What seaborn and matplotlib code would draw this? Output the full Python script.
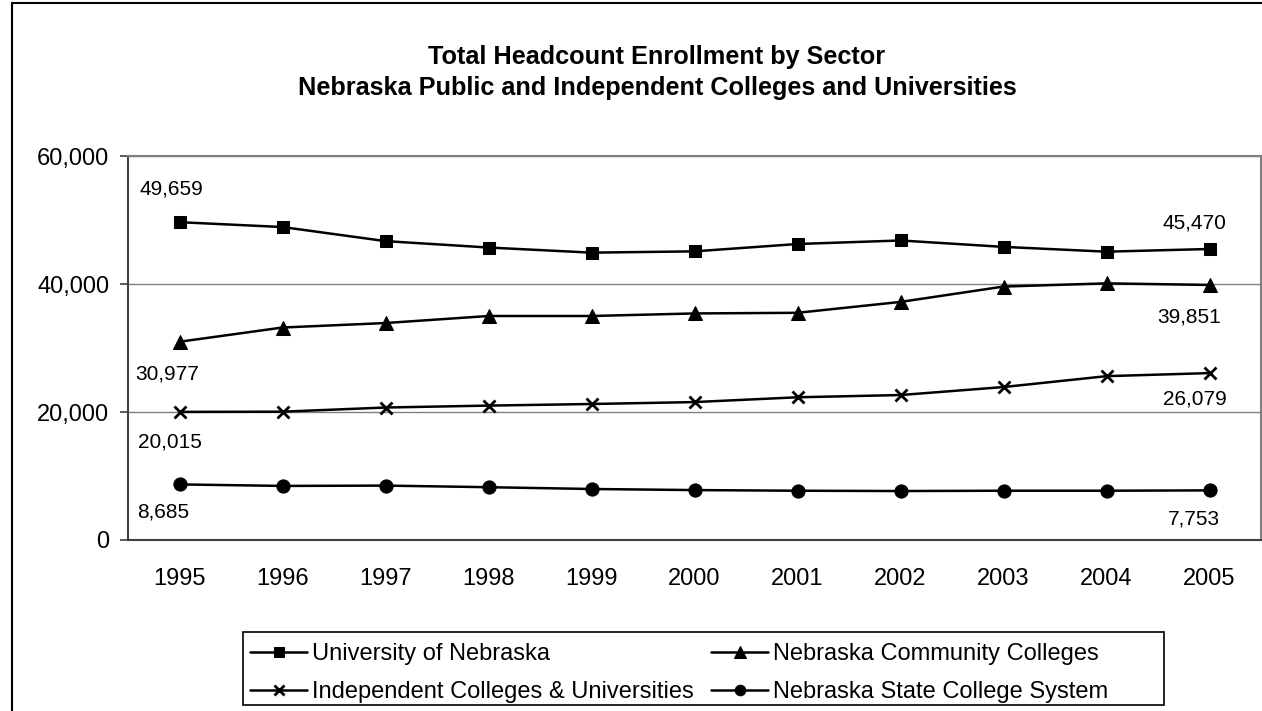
import numpy as np
import pandas as pd
import matplotlib
matplotlib.use("Agg")
import matplotlib.pyplot as plt
import matplotlib.patches as mpatches
from matplotlib.ticker import FuncFormatter, FixedLocator
import seaborn as sns

# Chart data
years = [1995, 1996, 1997, 1998, 1999, 2000, 2001, 2002, 2003, 2004, 2005]
univ_nebraska = [49659, 48900, 46700, 45700, 44900, 45100, 46250, 46800, 45800, 45050, 45470]
community_colleges = [30977, 33200, 33900, 35000, 35000, 35400, 35500, 37200, 39600, 40100, 39851]
independent = [20015, 20050, 20700, 21000, 21250, 21550, 22300, 22650, 23900, 25600, 26079]
state_colleges = [8685, 8450, 8500, 8250, 7970, 7800, 7700, 7650, 7700, 7700, 7753]

series_names = ["University of Nebraska", "Nebraska Community Colleges",
                "Independent Colleges & Universities", "Nebraska State College System"]
y_ticks = [0, 20000, 40000, 60000]
title = ("Total Headcount Enrollment by Sector\n"
         "Nebraska Public and Independent Colleges and Universities")

sns.set_style("white")
plt.rcParams["font.family"] = ["Liberation Sans", "DejaVu Sans"]
plt.rcParams["text.color"] = "black"
plt.rcParams["xtick.color"] = "black"
plt.rcParams["ytick.color"] = "black"

df = pd.DataFrame({"year": years,
                   series_names[0]: univ_nebraska,
                   series_names[1]: community_colleges,
                   series_names[2]: independent,
                   series_names[3]: state_colleges})
long_df = df.melt(id_vars="year", var_name="sector", value_name="headcount")

fig = plt.figure(figsize=(12.62, 7.11), dpi=100)
ax = fig.add_axes([128 / 1262, 1 - 540 / 711, 1133 / 1262, 384 / 711])

markers = {series_names[0]: dict(marker="s", markersize=8.5),
           series_names[1]: dict(marker="^", markersize=10),
           series_names[2]: dict(marker="x", markersize=9, markeredgewidth=2),
           series_names[3]: dict(marker="o", markersize=9.5)}

for name in series_names:
    sub = long_df[long_df["sector"] == name]
    sns.lineplot(data=sub, x="year", y="headcount", ax=ax, color="black",
                 linewidth=1.8, label=name, markeredgecolor="black",
                 markerfacecolor="black", **markers[name])

# first / last point labels (offsets in pixels)
label_offsets = {series_names[0]: [(-8, 33), (-15, 26)],
                 series_names[1]: [(-12, -32), (-20, -32)],
                 series_names[2]: [(-10, -30), (-15, -26)],
                 series_names[3]: [(-16, -28), (-16, -29)]}
for name in series_names:
    vals = df[name].tolist()
    for idx, off in zip([0, -1], label_offsets[name]):
        ax.annotate(f"{vals[idx]:,}", xy=(years[idx], vals[idx]), xytext=off,
                    textcoords="offset pixels", ha="center", va="center",
                    fontsize=15, color="black")

ax.set_xlim(years[0] - 0.5, years[-1] + 0.5)
ax.set_ylim(y_ticks[0], y_ticks[-1])
ax.set_yticks(y_ticks)
ax.yaxis.set_major_formatter(FuncFormatter(lambda v, p: f"{int(v):,}"))
ax.xaxis.set_major_locator(FixedLocator(np.arange(years[0] - 0.5, years[-1] + 1, 1.0)))
ax.xaxis.set_major_formatter(FuncFormatter(lambda v, p: ""))
ax.xaxis.set_minor_locator(FixedLocator(years))
ax.xaxis.set_minor_formatter(FuncFormatter(lambda v, p: f"{int(round(v))}"))
ax.tick_params(axis="x", which="major", direction="out", length=5.5, width=1.2,
               color="#404040")
ax.tick_params(axis="x", which="minor", length=0, pad=20, labelsize=17,
               labelcolor="black")
ax.tick_params(axis="y", direction="out", length=5.5, width=1.2, color="#404040",
               pad=8, labelsize=17, left=True, labelcolor="black")
ax.set_xlabel("")
ax.set_ylabel("")

ax.yaxis.grid(True, color="#808080", linewidth=1)
ax.xaxis.grid(False)
for side in ["top", "right"]:
    ax.spines[side].set_color("#808080")
    ax.spines[side].set_linewidth(1.5)
for side in ["left", "bottom"]:
    ax.spines[side].set_color("#404040")
    ax.spines[side].set_linewidth(1.5)

handles, labels = ax.get_legend_handles_labels()
ax.get_legend().remove()
order = [0, 2, 1, 3]
leg = fig.legend([handles[i] for i in order], [labels[i] for i in order],
                 loc="center", bbox_to_anchor=(679 / 1262, 38 / 711), ncol=2,
                 fontsize=17, frameon=False, handlelength=2.4, markerscale=0.8,
                 handletextpad=0.2, columnspacing=0.75, labelspacing=0.68,
                 borderpad=0.25, borderaxespad=0)
for txt in leg.get_texts():
    txt.set_color("black")
# legend box as drawn in the original (wider than its entries)
fig.patches.append(mpatches.Rectangle((243 / 1262, 1 - 705 / 711), 921 / 1262, 73 / 711,
                                      transform=fig.transFigure, fill=False,
                                      edgecolor="black", linewidth=1.2))

fig.text(657 / 1262, 1 - 72.5 / 711, title, ha="center", va="center",
         fontsize=18.2, fontweight="bold", linespacing=1.32, color="black")

# outer chart border
fig.patches.append(mpatches.Rectangle((12 / 1262, -0.05), 1.1, 1 - 3 / 711 + 0.05,
                                      transform=fig.transFigure, fill=False,
                                      edgecolor="black", linewidth=1.5))

fig.savefig("out.png", dpi=100)
